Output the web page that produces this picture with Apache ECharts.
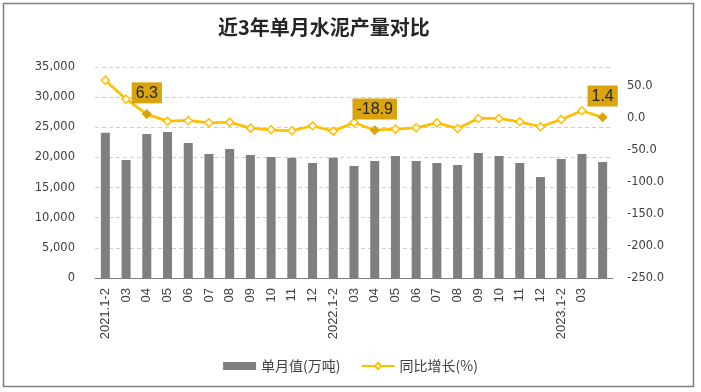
<!DOCTYPE html>
<html>
<head>
<meta charset="utf-8">
<script src="https://cdn.jsdelivr.net/npm/echarts@6/dist/echarts.min.js"></script>
<style>html,body{margin:0;padding:0;background:#fff}#c{width:701px;height:392px}</style>
</head>
<body>
<div id="c"></div>
<script>
const categories = ['2021.1-2','03','04','05','06','07','08','09','10','11','12',
  '2022.1-2','03','04','05','06','07','08','09','10','11','12',
  '2023.1-2','03','04'];
const monthlyOutput = [24100,19580,23890,24220,22400,20570,21400,20400,20070,19960,19080,
  19960,18580,19410,20240,19410,19080,18750,20740,20240,19080,16760,
  19740,20570,19240];
const yoyGrowth = [59.4,29.7,6.3,-4.7,-3.6,-7.3,-6.3,-15.6,-18.2,-19.8,-11.9,
  -20.3,-6.8,-18.9,-17.2,-15.1,-7.3,-16.1,-0.5,-0.5,-5.7,-13.5,
  -2.1,11.5,1.4];
const labeledPoints = [2, 13, 24];
const hiddenLabels = [24];
const leftTicks = {min: 0, max: 35000, interval: 5000};
const rightTicks = {min: -250, max: 80, interval: 50};

const gold = '#FFC000';
const darkGold = '#D9A40E';
const lineData = yoyGrowth.map((v, i) => labeledPoints.includes(i) ? {
  value: v,
  symbol: 'diamond',
  itemStyle: {color: darkGold, borderColor: darkGold},
  label: {show: true}
} : v);

const chart = echarts.init(document.getElementById('c'));
chart.setOption({
  animation: false,
  backgroundColor: '#fff',
  title: {
    text: '近3年单月水泥产量对比',
    left: 218, top: 17, padding: 0,
    textStyle: {fontSize: 20, fontWeight: 'bold', color: '#262626', fontFamily: 'Noto Sans CJK SC'}
  },
  graphic: [{
    type: 'rect', shape: {x: 3.5, y: 3.5, width: 690, height: 383},
    style: {fill: 'none', stroke: '#808080', lineWidth: 1.5}, silent: true, z: 100
  }],
  legend: {
    top: 354, left: 'center', itemGap: 20, itemWidth: 33, itemHeight: 8,
    textStyle: {fontSize: 14, color: '#404040', fontFamily: 'Noto Sans CJK SC'},
    data: [
      {name: '单月值(万吨)', icon: 'rect'},
      {name: '同比增长(%)'}
    ]
  },
  grid: {left: 95, right: 88, top: 67, bottom: 114},
  xAxis: {
    type: 'category', data: categories,
    axisLine: {lineStyle: {color: '#7f7f7f', width: 1}},
    axisTick: {show: false},
    axisLabel: {
      rotate: 90, margin: 10, fontSize: 13, color: '#404040', fontFamily: 'Liberation Sans',
      interval: (i) => !hiddenLabels.includes(i)
    }
  },
  yAxis: [{
    type: 'value', min: leftTicks.min, max: leftTicks.max, interval: leftTicks.interval,
    axisLine: {show: false}, axisTick: {show: false},
    axisLabel: {margin: 20, fontSize: 11.5, color: '#404040', fontFamily: 'DejaVu Sans',
      formatter: (v) => v.toLocaleString('en-US')},
    splitLine: {lineStyle: {color: '#cfcfcf', type: [4, 3]}}
  }, {
    type: 'value', min: rightTicks.min, max: rightTicks.max, interval: rightTicks.interval,
    axisLine: {show: false}, axisTick: {show: false},
    axisLabel: {margin: 14, fontSize: 11.5, color: '#404040', fontFamily: 'DejaVu Sans',
      showMaxLabel: false, formatter: (v) => v.toFixed(1)},
    splitLine: {show: false}
  }],
  series: [{
    name: '单月值(万吨)', type: 'bar', data: monthlyOutput, yAxisIndex: 0,
    barWidth: 9, itemStyle: {color: '#7F7F7F'}
  }, {
    name: '同比增长(%)', type: 'line', data: lineData, yAxisIndex: 1,
    symbol: 'diamond', symbolSize: 8, showAllSymbol: true,
    lineStyle: {color: gold, width: 2.75},
    itemStyle: {color: '#fff', borderColor: gold, borderWidth: 1.5},
    label: {
      show: false, position: 'top', distance: 6,
      backgroundColor: darkGold, color: '#262626', fontSize: 16,
      fontFamily: 'Liberation Sans', padding: [3, 4, 2, 4],
      formatter: (p) => p.value.toFixed(1)
    },
    z: 3
  }]
});
</script>
</body>
</html>
